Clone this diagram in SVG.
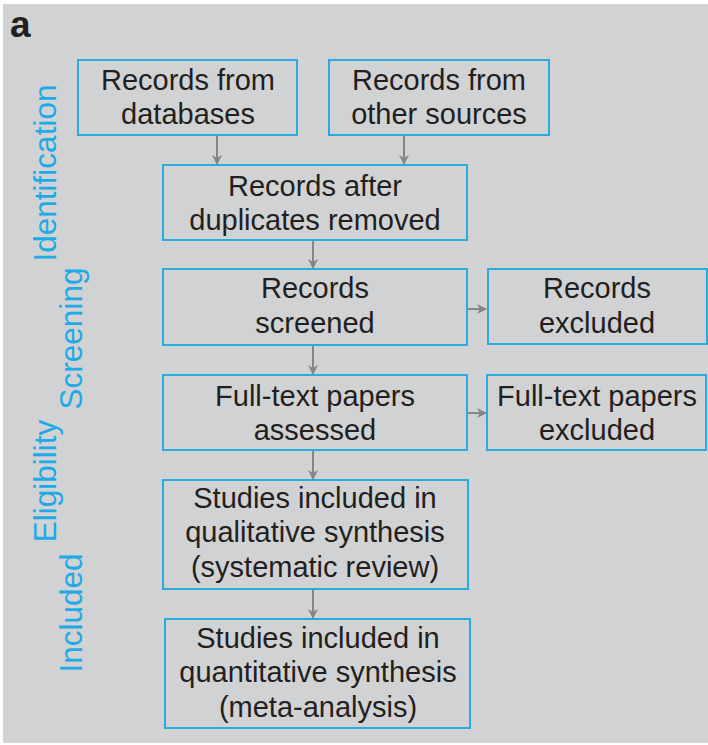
<svg xmlns="http://www.w3.org/2000/svg" width="708" height="745" viewBox="0 0 708 745">
<defs>
<style>
.box{fill:none;stroke:#29abe2;stroke-width:2}
.t{font-family:"Liberation Sans",Arial,sans-serif;font-size:29px;fill:#231f20;text-anchor:middle}
.side{font-family:"Liberation Sans",Arial,sans-serif;font-size:31.5px;fill:#1eaae6;text-anchor:middle}
.c{stroke:#858585;stroke-width:2;fill:none;marker-end:url(#ah)}
</style>
<marker id="ah" viewBox="0 0 10 10" refX="9" refY="5" markerWidth="5" markerHeight="5" orient="auto" markerUnits="strokeWidth">
<path d="M0,0 L10,5 L0,10 L3,5 Z" fill="#858585"/>
</marker>
</defs>
<rect x="0" y="0" width="708" height="745" fill="#ffffff"/>
<rect x="3" y="4" width="705" height="739" fill="#d1d2d4"/>
<text x="10" y="37" font-family="'Liberation Sans',Arial,sans-serif" font-size="37" font-weight="bold" fill="#231f20">a</text>
<g id="labels">
<text class="side" transform="translate(56,173) rotate(-90)">Identification</text>
<text class="side" transform="translate(82,338.5) rotate(-90)">Screening</text>
<text class="side" transform="translate(56,481) rotate(-90)">Eligibility</text>
<text class="side" transform="translate(82,613) rotate(-90)">Included</text>
</g>
<g id="connectors">
<line class="c" x1="217" y1="135" x2="217" y2="164"/>
<line class="c" x1="404" y1="135" x2="404" y2="164"/>
<line class="c" x1="313" y1="241" x2="313" y2="268"/>
<line class="c" x1="313" y1="345" x2="313" y2="374"/>
<line class="c" x1="313" y1="451" x2="313" y2="479"/>
<line class="c" x1="313" y1="590" x2="313" y2="618"/>
<line class="c" x1="468" y1="309" x2="486" y2="309"/>
<line class="c" x1="468" y1="413" x2="486" y2="413"/>
</g>
<g id="n1"><rect class="box" x="78" y="60" width="219" height="75"/>
<text class="t" x="188" y="90">Records from</text><text class="t" x="188" y="124">databases</text></g>
<g id="n2"><rect class="box" x="329" y="60" width="220" height="75"/>
<text class="t" x="439" y="90">Records from</text><text class="t" x="439" y="124">other sources</text></g>
<g id="n3"><rect class="box" x="163" y="165" width="304" height="75"/>
<text class="t" x="315" y="196">Records after</text><text class="t" x="315" y="230">duplicates removed</text></g>
<g id="n4"><rect class="box" x="163" y="269" width="304" height="76"/>
<text class="t" x="315" y="298">Records</text><text class="t" x="315" y="333">screened</text></g>
<g id="n5"><rect class="box" x="488" y="269" width="219" height="75"/>
<text class="t" x="597" y="298">Records</text><text class="t" x="597" y="333">excluded</text></g>
<g id="n6"><rect class="box" x="163" y="375" width="304" height="75"/>
<text class="t" x="315" y="406">Full-text papers</text><text class="t" x="315" y="440">assessed</text></g>
<g id="n7"><rect class="box" x="487" y="375" width="219" height="75"/>
<text class="t" x="597" y="406">Full-text papers</text><text class="t" x="597" y="440">excluded</text></g>
<g id="n8"><rect class="box" x="163" y="480" width="305" height="109"/>
<text class="t" x="315" y="508">Studies included in</text><text class="t" x="315" y="542">qualitative synthesis</text><text class="t" x="315" y="577">(systematic review)</text></g>
<g id="n9"><rect class="box" x="165" y="619" width="305" height="109"/>
<text class="t" x="318" y="648">Studies included in</text><text class="t" x="318" y="682">quantitative synthesis</text><text class="t" x="318" y="717">(meta-analysis)</text></g>
</svg>
